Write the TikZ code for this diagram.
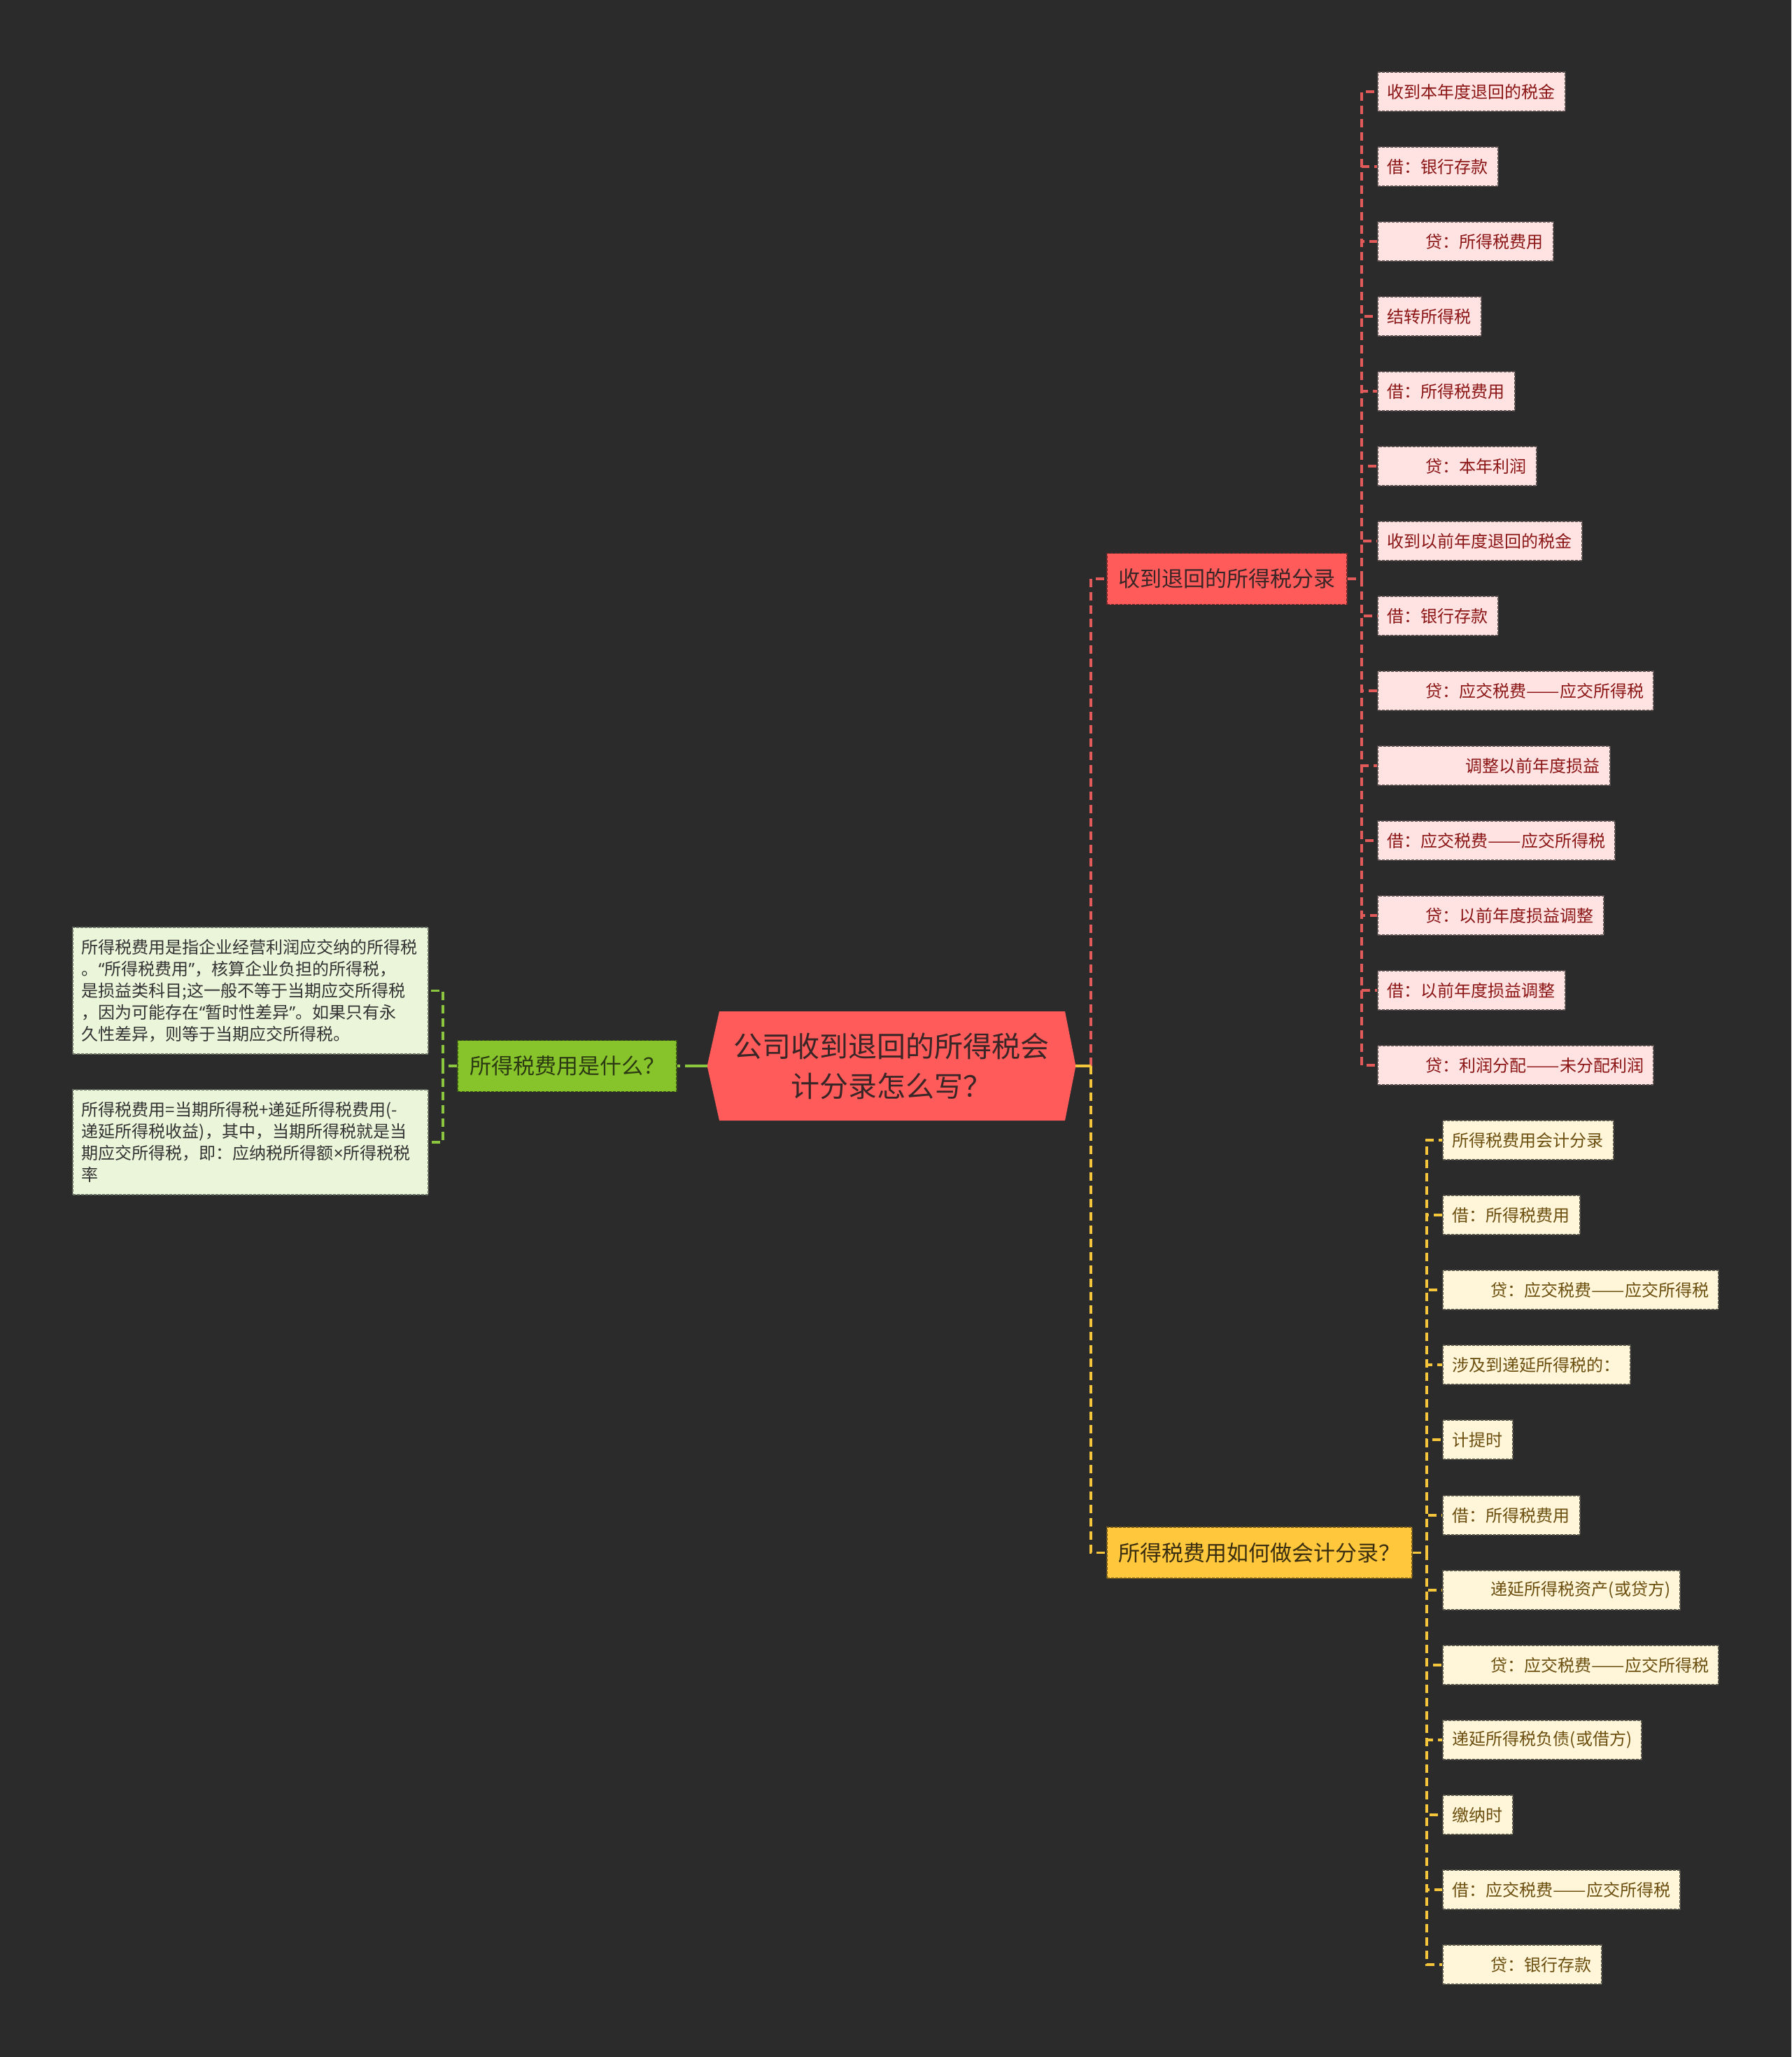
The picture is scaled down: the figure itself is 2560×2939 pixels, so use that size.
\documentclass[tikz,border=0pt]{standalone}
\usepackage{fontspec}
\setmainfont{Noto Sans CJK SC}
\newfontfamily\latinfont{Noto Sans}
\newcommand{\qo}{{\latinfont “}}
\newcommand{\qc}{{\latinfont ”}}
\newcommand{\tms}{{\latinfont ×}}
\newcommand{\dsh}{\scalebox{1.18}[1]{——}}
\definecolor{bg}{HTML}{2B2B2B}
\definecolor{rootfill}{HTML}{FF5B5B}
\definecolor{roottext}{HTML}{3A2626}
\definecolor{rleaf}{HTML}{FFE3E3}
\definecolor{rleaftext}{HTML}{8B1515}
\definecolor{rline}{HTML}{E35A5A}
\definecolor{yfill}{HTML}{FFC73B}
\definecolor{ytext}{HTML}{3A2E10}
\definecolor{yleaf}{HTML}{FFF6DA}
\definecolor{yleaftext}{HTML}{6B4E0E}
\definecolor{yline}{HTML}{F5C63C}
\definecolor{gfill}{HTML}{87C32A}
\definecolor{gtext}{HTML}{2B3A12}
\definecolor{gleaf}{HTML}{EAF5D9}
\definecolor{gleaftext}{HTML}{333333}
\definecolor{gline}{HTML}{8CC63F}
\tikzset{
  boxbase/.style={line width=0.9pt, dash pattern=on 2pt off 1pt, inner ysep=0pt},
  leafR/.style={boxbase, draw=rleaf!35!black, fill=rleaf, text=rleaftext, inner xsep=7pt, minimum height=28pt, anchor=west, font=\fontsize{12pt}{14pt}\selectfont},
  leafY/.style={boxbase, draw=yleaf!35!black, fill=yleaf, text=yleaftext, inner xsep=7pt, minimum height=28pt, anchor=west, font=\fontsize{12pt}{14pt}\selectfont},
  leafG/.style={boxbase, draw=gleaf!45!black, fill=gleaf, text=gleaftext, inner xsep=6.5pt, text width=241pt, align=left, anchor=north west, font=\fontsize{12pt}{15.5pt}\selectfont},
  branchR/.style={boxbase, draw=rootfill!45!black, fill=rootfill, text=roottext, minimum width=171.5pt, minimum height=36.5pt, inner xsep=0pt, anchor=west, font=\fontsize{15.5pt}{18pt}\selectfont},
  branchY/.style={boxbase, draw=yfill!45!black, fill=yfill, text=ytext, minimum width=218pt, minimum height=36.5pt, inner xsep=0pt, anchor=west, font=\fontsize{15.5pt}{18pt}\selectfont},
  branchG/.style={boxbase, draw=gfill!45!black, fill=gfill, text=gtext, minimum width=156.5pt, minimum height=36.5pt, inner xsep=0pt, anchor=east, font=\fontsize{15.5pt}{18pt}\selectfont},
  rootnode/.style={minimum width=263pt, minimum height=78pt, inner sep=0pt, text=roottext, align=center, font=\fontsize{20.5pt}{28.5pt}\selectfont},
  conR/.style={draw=rline, line width=1.6pt, dash pattern=on 6pt off 3.5pt},
  conY/.style={draw=yline, line width=1.6pt, dash pattern=on 6pt off 3.5pt},
  conG/.style={draw=gline, line width=1.6pt, dash pattern=on 6pt off 3.5pt},
}
\newcommand{\indA}{\hspace*{27.5pt}}
\newcommand{\indB}{\hspace*{56pt}}
\begin{document}
\begin{tikzpicture}[x=0.5pt,y=-0.5pt]
\fill[bg] (0,0) rectangle (2560,2939);
\useasboundingbox (0,0) rectangle (2560,2939);

% root
\node[rootnode] (root) at (1274,1523) {};
\fill[rootfill] (root.west) -- (1028,1445) -- (1522,1445) -- (root.east) -- (1522,1601) -- (1028,1601) -- cycle;
\node[rootnode] (roottext) at (1274,1523) {公司收到退回的所得税会\\计分录怎么写？};

% branches
\node[branchR] (red) at (1581,827) {收到退回的所得税分录};
\node[branchY] (yel) at (1581,2218.5) {所得税费用如何做会计分录？};
\node[branchG] (grn) at (968,1523) {所得税费用是什么？};

% red leaves
\node[leafR] (r0) at (1968,131) {收到本年度退回的税金};
\node[leafR] (r1) at (1968,238) {借：银行存款};
\node[leafR] (r2) at (1968,345) {\indA 贷：所得税费用};
\node[leafR] (r3) at (1968,452) {结转所得税};
\node[leafR] (r4) at (1968,559) {借：所得税费用};
\node[leafR] (r5) at (1968,666) {\indA 贷：本年利润};
\node[leafR] (r6) at (1968,773) {收到以前年度退回的税金};
\node[leafR] (r7) at (1968,880) {借：银行存款};
\node[leafR] (r8) at (1968,987) {\indA 贷：应交税费\dsh 应交所得税};
\node[leafR] (r9) at (1968,1094) {\indB 调整以前年度损益};
\node[leafR] (r10) at (1968,1201) {借：应交税费\dsh 应交所得税};
\node[leafR] (r11) at (1968,1308) {\indA 贷：以前年度损益调整};
\node[leafR] (r12) at (1968,1415) {借：以前年度损益调整};
\node[leafR] (r13) at (1968,1522) {\indA 贷：利润分配\dsh 未分配利润};

% yellow leaves
\node[leafY] (y0) at (2061,1629) {所得税费用会计分录};
\node[leafY] (y1) at (2061,1736) {借：所得税费用};
\node[leafY] (y2) at (2061,1843) {\indA 贷：应交税费\dsh 应交所得税};
\node[leafY] (y3) at (2061,1950) {涉及到递延所得税的：};
\node[leafY] (y4) at (2061,2057) {计提时};
\node[leafY] (y5) at (2061,2165) {借：所得税费用};
\node[leafY] (y6) at (2061,2272) {\indA 递延所得税资产(或贷方)};
\node[leafY] (y7) at (2061,2379) {\indA 贷：应交税费\dsh 应交所得税};
\node[leafY] (y8) at (2061,2486) {递延所得税负债(或借方)};
\node[leafY] (y9) at (2061,2593) {缴纳时};
\node[leafY] (y10) at (2061,2700) {借：应交税费\dsh 应交所得税};
\node[leafY] (y11) at (2061,2807) {\indA 贷：银行存款};

% green leaves
\node[leafG, minimum height=90.5pt] (g0) at (103,1324) {所得税费用是指企业经营利润应交纳的所得税\\。\qo 所得税费用\qc，核算企业负担的所得税，\\是损益类科目;这一般不等于当期应交所得税\\，因为可能存在\qo 暂时性差异\qc。如果只有永\\久性差异，则等于当期应交所得税。};
\node[leafG, minimum height=75pt] (g1) at (103,1556) {所得税费用=当期所得税+递延所得税费用(-\\递延所得税收益)，其中，当期所得税就是当\\期应交所得税，即：应纳税所得额\tms 所得税税\\率};

% bus coordinates
\coordinate (tbus) at (1559,1523);
\coordinate (rbus) at (1946,827);
\coordinate (ybus) at (2039,2218.5);
\coordinate (gbus) at (633,1523);

% root connectors
\draw[conR] (tbus) |- (red.west);
\draw[conY] (tbus) |- (yel.west);
\draw[draw=yline, line width=1.6pt] (root.east) -- (tbus);
\draw[draw=gline, line width=1.6pt, dash pattern=on 16pt off 3.5pt] (root.west) -- (grn.east);

% red leaf connectors
\foreach \n in {r0,r1,r2,r3,r4,r5,r6,r7,r8,r9,r10,r11,r12,r13}{
  \draw[conR] (red.east) -- (rbus) |- (\n.west);
}
% yellow leaf connectors
\foreach \n in {y0,y1,y2,y3,y4,y5,y6,y7,y8,y9,y10,y11}{
  \draw[conY] (yel.east) -- (ybus) |- (\n.west);
}
% green leaf connectors
\foreach \n in {g0,g1}{
  \draw[conG] (grn.west) -- (gbus) |- (\n.east);
}
\end{tikzpicture}
\end{document}
